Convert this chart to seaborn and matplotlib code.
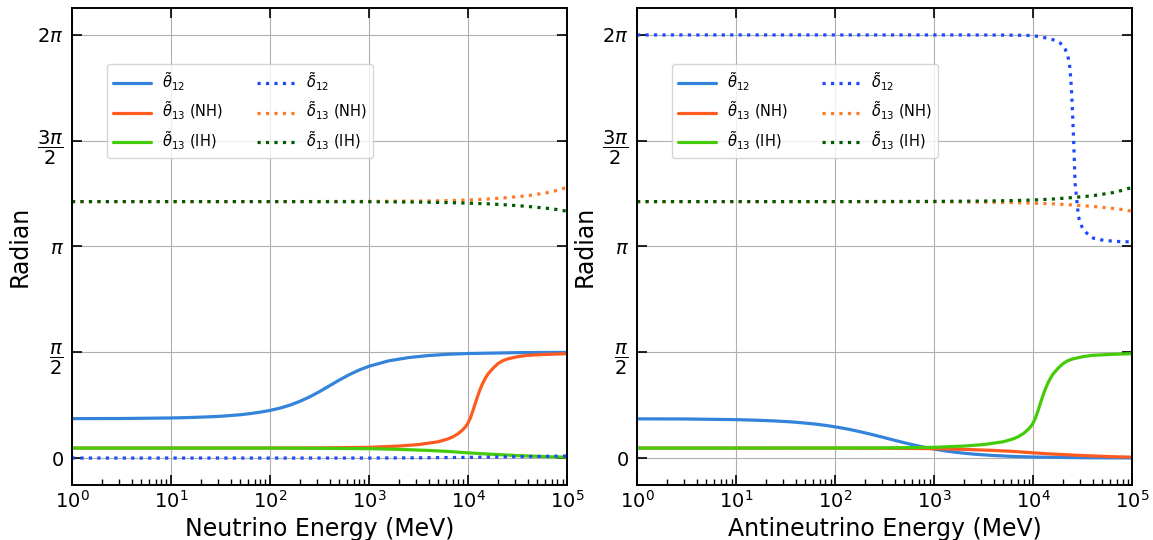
import numpy as np
import pandas as pd
import matplotlib
matplotlib.use("Agg")
import matplotlib.pyplot as plt
from matplotlib.ticker import LogLocator, NullFormatter
import seaborn as sns

# ---------------- data (log10 of energy in MeV, angles in radians) ----------------
L_t12_nu = [0, 0.5, 1, 1.2, 1.4, 1.5, 1.6, 1.7, 1.8, 1.9, 2.0, 2.1, 2.2, 2.3, 2.4, 2.5,
            2.6, 2.7, 2.8, 2.9, 3.0, 3.2, 3.4, 3.6, 3.8, 4.0, 4.5, 5.0]
t12_nu = [0.585, 0.587, 0.595, 0.602, 0.613, 0.620, 0.631, 0.643, 0.660, 0.681, 0.707,
          0.741, 0.785, 0.841, 0.908, 0.986, 1.072, 1.158, 1.238, 1.307, 1.363, 1.444,
          1.492, 1.522, 1.541, 1.552, 1.565, 1.569]

L_t12_anu = [0, 0.5, 1, 1.2, 1.4, 1.5, 1.6, 1.7, 1.8, 1.9, 2.0, 2.1, 2.2, 2.3, 2.4, 2.5,
             2.6, 2.7, 2.8, 2.9, 3.0, 3.1, 3.2, 3.3, 3.4, 3.6, 3.8, 4.0, 4.5, 5.0]
t12_anu = [0.582, 0.580, 0.570, 0.562, 0.550, 0.542, 0.532, 0.519, 0.504, 0.486, 0.463,
           0.438, 0.408, 0.375, 0.339, 0.302, 0.264, 0.227, 0.192, 0.161, 0.133, 0.109,
           0.089, 0.072, 0.058, 0.0375, 0.024, 0.015, 0.005, 0.0015]

# resonant theta13 (nu NH / anti-nu IH)
L_t13_res = [0, 1, 2, 2.5, 3.0, 3.3, 3.5, 3.7, 3.8, 3.85, 3.9, 3.925, 3.95, 3.975, 4.0,
             4.025, 4.05, 4.075, 4.1, 4.125, 4.15, 4.175, 4.2, 4.25, 4.3, 4.35, 4.4,
             4.5, 4.6, 4.8, 5.0]
t13_res = [0.148, 0.148, 0.149, 0.151, 0.159, 0.178, 0.200, 0.242, 0.285, 0.317, 0.362,
           0.392, 0.425, 0.465, 0.520, 0.600, 0.705, 0.820, 0.930, 1.030, 1.115, 1.185,
           1.245, 1.330, 1.400, 1.445, 1.472, 1.505, 1.525, 1.540, 1.550]

# suppressed theta13 (nu IH / anti-nu NH)
L_t13_sup = [0, 1, 2, 2.5, 3.0, 3.3, 3.6, 3.8, 4.0, 4.2, 4.5, 4.8, 5.0]
t13_sup = [0.148, 0.148, 0.148, 0.145, 0.139, 0.129, 0.113, 0.098, 0.077, 0.059, 0.037,
           0.020, 0.013]

L_d12_nu = [0, 3.0, 3.5, 4.0, 4.5, 5.0]
d12_nu = [0.0, 0.0, 0.003, 0.01, 0.02, 0.03]

L_d12_anu = [0, 1, 2, 3, 3.5, 3.8, 3.97, 4.05, 4.138, 4.19, 4.239, 4.27, 4.306, 4.325,
             4.34, 4.355, 4.367, 4.381, 4.391, 4.401, 4.409, 4.416, 4.424, 4.441, 4.458,
             4.475, 4.492, 4.515, 4.542, 4.575, 4.61, 4.69, 4.78, 4.88, 5.0]
d12_anu = [6.283, 6.283, 6.283, 6.283, 6.282, 6.280, 6.275, 6.262, 6.236, 6.218, 6.190,
           6.165, 6.120, 6.070, 6.010, 5.940, 5.860, 5.620, 5.370, 5.020, 4.720, 4.430,
           4.080, 3.830, 3.585, 3.500, 3.437, 3.385, 3.339, 3.295, 3.264, 3.239, 3.224,
           3.214, 3.210]

L_d13 = [0, 1, 2, 3.0, 3.5, 3.8, 4.0, 4.2, 4.4, 4.6, 4.8, 4.9, 5.0]
d13_up = [3.808, 3.808, 3.808, 3.811, 3.816, 3.823, 3.832, 3.846, 3.868, 3.895, 3.940,
          3.975, 4.020]
d13_down = [3.808, 3.808, 3.808, 3.806, 3.801, 3.793, 3.785, 3.775, 3.758, 3.737, 3.708,
            3.690, 3.665]

labels = [r'$\tilde{\theta}_{12}$', r'$\tilde{\theta}_{13}$ (NH)', r'$\tilde{\theta}_{13}$ (IH)',
          r'$\tilde{\delta}_{12}$', r'$\tilde{\delta}_{13}$ (NH)', r'$\tilde{\delta}_{13}$ (IH)']
colors = ['#3383db', '#ff5a1f', '#44cc0a', '#1e48ff', '#ff7a26', '#005a00']
styles = ['-', '-', '-', ':', ':', ':']

ytick_vals = [0, np.pi / 2, np.pi, 3 * np.pi / 2, 2 * np.pi]
ytick_labels = [r'$0$', r'$\dfrac{\pi}{2}$', r'$\pi$', r'$\dfrac{3\pi}{2}$', r'$2\pi$']
xlabels = ['Neutrino Energy (MeV)', 'Antineutrino Energy (MeV)']

panels = [
    [(L_t12_nu, t12_nu), (L_t13_res, t13_res), (L_t13_sup, t13_sup),
     (L_d12_nu, d12_nu), (L_d13, d13_up), (L_d13, d13_down)],
    [(L_t12_anu, t12_anu), (L_t13_sup, t13_sup), (L_t13_res, t13_res),
     (L_d12_anu, d12_anu), (L_d13, d13_down), (L_d13, d13_up)],
]

# ---------------- plotting ----------------
sns.set_theme(style='ticks')
plt.rcParams.update({
    'font.family': ['DejaVu Sans'],
    'mathtext.fontset': 'dejavusans',
    'text.color': 'black',
    'axes.labelcolor': 'black',
    'axes.edgecolor': 'black',
    'xtick.color': 'black',
    'ytick.color': 'black',
    'xtick.bottom': True,
    'xtick.top': True,
    'ytick.left': True,
    'ytick.right': True,
    'xtick.direction': 'in',
    'ytick.direction': 'in',
    'xtick.major.size': 7,
    'xtick.minor.size': 4,
    'ytick.major.size': 7,
    'xtick.major.width': 1.2,
    'xtick.minor.width': 1.0,
    'ytick.major.width': 1.2,
})

fig = plt.figure(figsize=(11.53, 5.4), dpi=100)
axes = [fig.add_axes([0.0624, 0.1019, 0.4294, 0.8833]),
        fig.add_axes([0.5525, 0.1019, 0.4294, 0.8833])]

for ax, series, xl in zip(axes, panels, xlabels):
    for (Ls, vals), lab, c, ls in zip(series, labels, colors, styles):
        df = pd.DataFrame({'E': np.power(10.0, Ls), 'v': vals})
        sns.lineplot(data=df, x='E', y='v', ax=ax, color=c, linestyle=ls,
                     linewidth=2.3, label=lab, sort=False)
    ax.set_xscale('log')
    ax.set_xlim(1, 1e5)
    ax.xaxis.set_major_locator(LogLocator(base=10, numticks=20))
    ax.xaxis.set_minor_locator(LogLocator(base=10, subs=np.arange(2, 10), numticks=100))
    ax.xaxis.set_minor_formatter(NullFormatter())
    ax.set_ylim(-0.4, 2 * np.pi + 0.4)
    ax.set_yticks(ytick_vals)
    ax.set_yticklabels(ytick_labels)
    ax.set_axisbelow(True)
    ax.grid(True, which='major', color='#b0b0b0', linewidth=0.8)
    ax.xaxis.set_ticks_position('both')
    ax.yaxis.set_ticks_position('both')
    ax.tick_params(which='major', direction='in', length=7, width=1.2,
                   labelsize=14, colors='black')
    ax.tick_params(axis='y', which='major', pad=6)
    ax.tick_params(axis='x', which='minor', direction='in', bottom=True, top=False,
                   length=4, width=1.0, colors='black')
    ax.tick_params(axis='y', which='minor', left=False, right=False)
    for sp in ax.spines.values():
        sp.set_visible(True)
        sp.set_color('black')
        sp.set_linewidth(1.4)
    ax.set_xlabel(xl, fontsize=17)
    ax.set_ylabel('Radian', fontsize=17)
    ax.legend(ncol=2, loc='upper left', bbox_to_anchor=(0.056, 0.897), fontsize=10.5,
              handlelength=2.6, columnspacing=2.3, framealpha=0.8)

fig.canvas.draw()
_ax = axes[0]
_locs = _ax.xaxis.get_minorticklocs()
_mt = _ax.xaxis.get_minor_ticks()
_info = (len(_locs), [(t.tick1line.get_visible(), t.tick1line.get_markersize(),
                       t.tick1line.get_marker()) for t in _mt[:3]],
         [(t.tick1line.get_visible(), t.tick1line.get_markersize()) for t in _ax.xaxis.get_major_ticks()[:2]])
if len(_locs) < 20 or not _mt[0].tick1line.get_visible():
    raise RuntimeError(str(_info))

fig.savefig('out.png', dpi=100)
